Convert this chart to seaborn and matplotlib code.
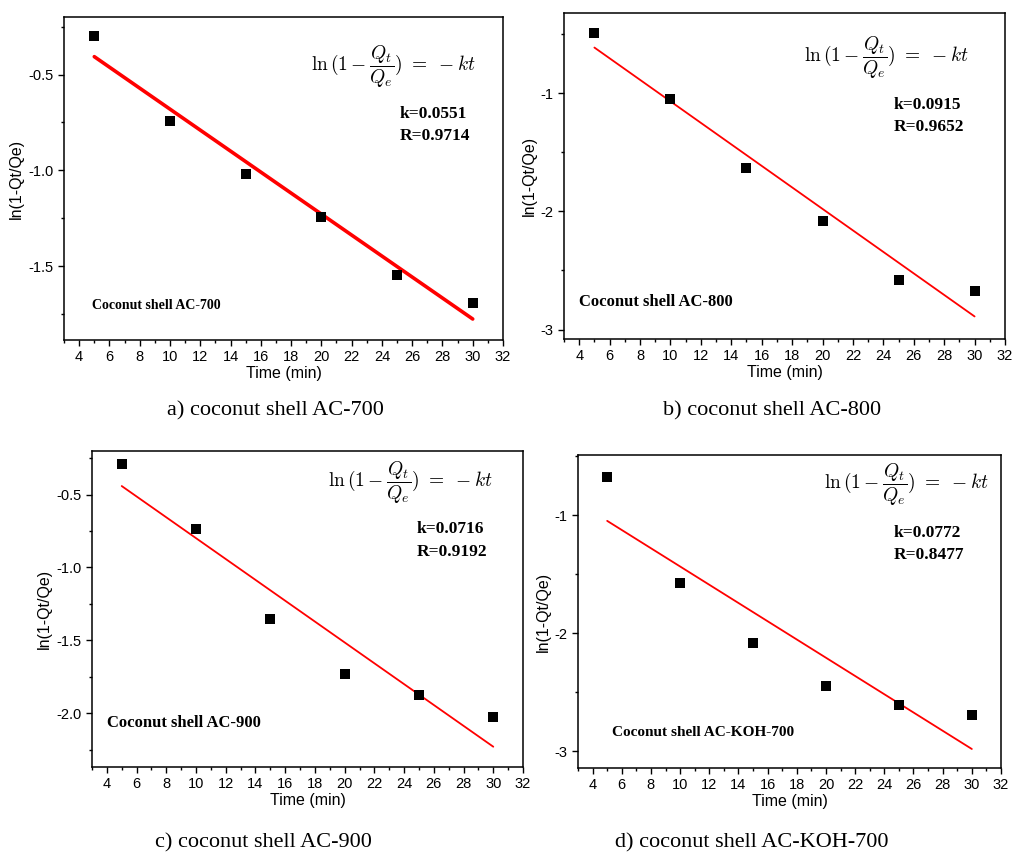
import numpy as np
import pandas as pd
import matplotlib
matplotlib.use("Agg")
import matplotlib.pyplot as plt
from matplotlib.ticker import MultipleLocator
import seaborn as sns

# data
time_min = [5, 10, 15, 20, 25, 30]
y_ac700 = [-0.30, -0.745, -1.02, -1.245, -1.547, -1.69]
y_ac800 = [-0.49, -1.05, -1.635, -2.08, -2.58, -2.67]
y_ac900 = [-0.286, -0.733, -1.356, -1.731, -1.878, -2.03]
y_koh700 = [-0.68, -1.575, -2.08, -2.445, -2.61, -2.69]

k_vals = ["k=0.0551", "k=0.0915", "k=0.0716", "k=0.0772"]
r_vals = ["R=0.9714", "R=0.9652", "R=0.9192", "R=0.8477"]
labels = ["Coconut shell AC-700", "Coconut shell AC-800",
          "Coconut shell AC-900", "Coconut shell AC-KOH-700"]
captions = ["a) coconut shell AC-700", "b) coconut shell AC-800",
            "c) coconut shell AC-900", "d) coconut shell AC-KOH-700"]

sns.set_style("ticks")
plt.rcParams["font.family"] = ["Liberation Sans", "DejaVu Sans"]
plt.rcParams["mathtext.fontset"] = "cm"
plt.rcParams["text.color"] = "black"
plt.rcParams["axes.labelcolor"] = "black"
plt.rcParams["xtick.color"] = "black"
plt.rcParams["ytick.color"] = "black"

fig = plt.figure(figsize=(10.13, 8.56), dpi=100)
W, H = 1013, 856

# pixel boxes: left, right, top, bottom
boxes = [(64, 503, 17, 340), (564, 1005, 13, 339),
         (92, 523, 451, 767), (578, 1001, 455, 768)]
ylims = [(-1.885, -0.2), (-3.08, -0.32), (-2.37, -0.2), (-3.14, -0.49)]
ymajor = [0.5, 1, 0.5, 1]
yminor = [0.25, 0.5, 0.25, 0.5]
line_w = [2.6, 1.3, 1.3, 1.3]
series = [y_ac700, y_ac800, y_ac900, y_koh700]
# text anchors in axes fraction
eq_pos = [(0.75, 0.845), (0.732, 0.862), (0.74, 0.899), (0.776, 0.904)]
k_pos = [(0.765, 0.70, 0.632), (0.747, 0.718, 0.65),
         (0.754, 0.753, 0.68), (0.747, 0.751, 0.68)]
lab_pos = [(0.064, 0.108, 10), (0.034, 0.113, 12),
           (0.035, 0.139, 12), (0.08, 0.112, 11)]
cap_pos = [(275, 411), (772, 411), (263, 843), (752, 843)]

for i in range(4):
    l, r, t, b = boxes[i]
    ax = fig.add_axes([l / W, 1 - b / H, (r - l) / W, (b - t) / H])
    df = pd.DataFrame({"t": time_min, "y": series[i]})
    sns.regplot(data=df, x="t", y="y", ax=ax, ci=None, marker="s",
                scatter_kws={"color": "black", "s": 42, "alpha": 1,
                             "zorder": 3, "linewidths": 0},
                line_kws={"color": "red", "lw": line_w[i]})
    ax.set_xlim(3, 32)
    ax.set_ylim(*ylims[i])
    ax.xaxis.set_major_locator(MultipleLocator(2))
    ax.xaxis.set_minor_locator(MultipleLocator(1))
    ax.yaxis.set_major_locator(MultipleLocator(ymajor[i]))
    ax.yaxis.set_minor_locator(MultipleLocator(yminor[i]))
    if ymajor[i] == 1:
        ax.yaxis.set_major_formatter(matplotlib.ticker.FormatStrFormatter("%d"))
    else:
        ax.yaxis.set_major_formatter(matplotlib.ticker.FormatStrFormatter("%.1f"))
    ax.tick_params(which="both", direction="out", top=False, right=False,
                   labelsize=10.5, color="black", labelcolor="black")
    ax.tick_params(which="major", length=4, width=1)
    ax.tick_params(which="minor", length=2.5, width=1)
    for s in ax.spines.values():
        s.set_visible(True)
        s.set_color("black")
        s.set_linewidth(1.1)
    ax.set_xlabel("Time (min)", fontsize=11.5, labelpad=1)
    ax.set_ylabel("ln(1-Qt/Qe)", fontsize=11.5, labelpad=3)

    ex, ey = eq_pos[i]
    ax.text(ex, ey, r"$\mathrm{ln}\,(1-\dfrac{Q_t}{Q_e})\ =\ -kt$",
            transform=ax.transAxes, ha="center", va="center", fontsize=14)
    kx, ky, ry = k_pos[i]
    ax.text(kx, ky, k_vals[i], transform=ax.transAxes, ha="left", va="center",
            fontsize=12.5, fontweight="bold", family="Liberation Serif")
    ax.text(kx, ry, r_vals[i], transform=ax.transAxes, ha="left", va="center",
            fontsize=12.5, fontweight="bold", family="Liberation Serif")
    lx, ly, lfs = lab_pos[i]
    ax.text(lx, ly, labels[i], transform=ax.transAxes, ha="left", va="center",
            fontsize=lfs, fontweight="bold", family="Liberation Serif")

    cx, cy = cap_pos[i]
    fig.text(cx / W, 1 - cy / H, captions[i], ha="center", va="center",
             fontsize=16, family="Liberation Serif")

fig.savefig("out.png", dpi=100, facecolor="white")
